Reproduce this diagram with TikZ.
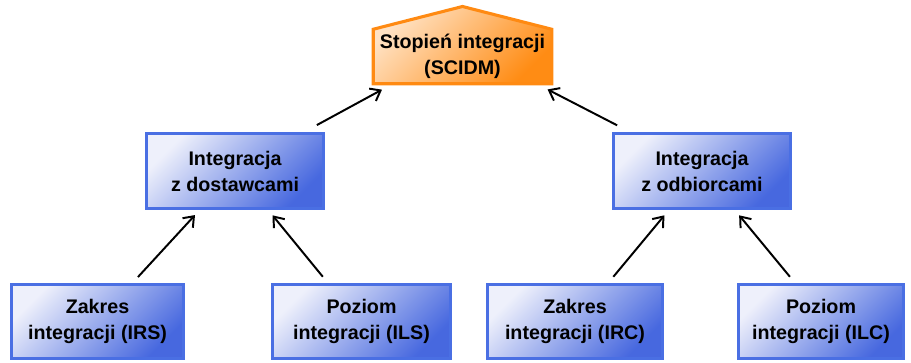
\documentclass[tikz,border=0pt]{standalone}
\usepackage{fontspec}
\setmainfont{Liberation Sans}
\usetikzlibrary{arrows.meta,backgrounds}

\definecolor{boxblue}{HTML}{4A6FE3}
\definecolor{boxlight}{HTML}{EEF0FB}
\definecolor{boxdark}{HTML}{4768DF}
\definecolor{topline}{HTML}{FF8A12}
\definecolor{toplight}{HTML}{FFE2C4}
\definecolor{topdark}{HTML}{FF8C14}

\tikzset{
  box/.style={rectangle, draw=boxblue, line width=2.2pt, align=center,
    top color=boxlight, bottom color=boxdark, shading angle=45,
    font=\bfseries\fontsize{14}{18.5}\selectfont},
  link/.style={-{Straight Barb[length=6.5pt,width=10pt]}, line width=1.4pt,
    shorten <=0.2cm, shorten >=0.17cm}
}

\begin{document}
\begin{tikzpicture}[x=0.025cm, y=-0.025cm]
    \useasboundingbox (0,0) rectangle (911,362);

    % Define top node
    \node[align=center, minimum width=4.45cm, minimum height=1.26cm,
      font=\bfseries\fontsize{14}{18.5}\selectfont] (scidm) at (462.5,56.5)
      {Stopień integracji\\(SCIDM)};
    \coordinate (apex) at (462.5,6.5);
    \begin{scope}[on background layer]
      \draw[draw=topline, line width=2.2pt, line join=miter,
        top color=toplight, bottom color=topdark, shading angle=45]
        (scidm.south west) -- (scidm.north west) -- (apex)
        -- (scidm.north east) -- (scidm.south east) -- cycle;
    \end{scope}

    % Define middle nodes
    \node[box, minimum width=4.425cm, minimum height=1.875cm] (dost) at (235,171)
      {Integracja\\z dostawcami};
    \node[box, minimum width=4.425cm, minimum height=1.875cm] (odb) at (702,171)
      {Integracja\\z odbiorcami};

    % Define bottom nodes
    \node[box, minimum width=4.3cm, minimum height=1.85cm] (irs) at (97.5,321.5)
      {Zakres\\integracji (IRS)};
    \node[box, minimum width=4.45cm, minimum height=1.85cm] (ils) at (361.5,321.5)
      {Poziom\\integracji (ILS)};
    \node[box, minimum width=4.375cm, minimum height=1.85cm] (irc) at (575,321.5)
      {Zakres\\integracji (IRC)};
    \node[box, minimum width=4.125cm, minimum height=1.85cm] (ilc) at (821,321.5)
      {Poziom\\integracji (ILC)};

    % Arrows up to the middle
    \draw[link] ([xshift=0.875cm]irs.north) -- ([xshift=-0.885cm]dost.south);
    \draw[link] ([xshift=-0.84cm]ils.north) -- ([xshift=0.83cm]dost.south);
    \draw[link] ([xshift=0.83cm]irc.north) -- ([xshift=-0.83cm]odb.south);
    \draw[link] ([xshift=-0.65cm]ilc.north) -- ([xshift=0.82cm]odb.south);

    % Arrows up to the top
    \draw[link, shorten <=0.36cm, shorten >=0.31cm]
      ([xshift=1.73cm]dost.north) -- ([xshift=-1.74cm]scidm.south);
    \draw[link, shorten <=0.36cm, shorten >=0.31cm]
      ([xshift=-1.8cm]odb.north) -- ([xshift=1.85cm]scidm.south);
\end{tikzpicture}
\end{document}
